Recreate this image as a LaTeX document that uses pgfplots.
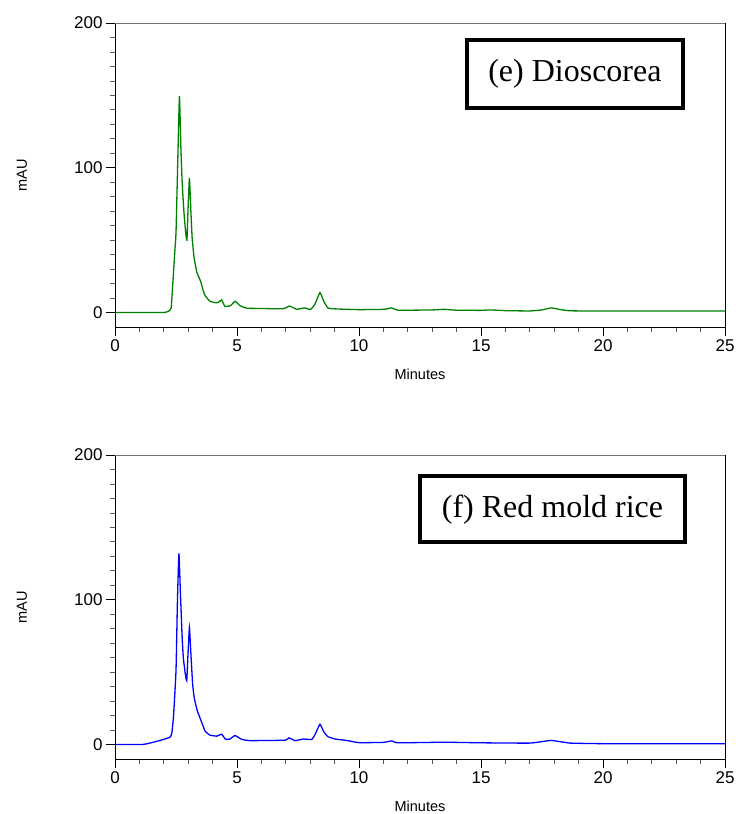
\documentclass[border=0pt]{standalone}
\usepackage{pgfplots}
\pgfplotsset{compat=1.18}
\usepackage{fontspec}
\setmainfont{Liberation Sans}
\newfontfamily\tnr{Liberation Serif}
\definecolor{cgreen}{RGB}{0,128,0}
\definecolor{cblue}{RGB}{0,0,255}
\pgfplotsset{
  chrom/.style={
    scale only axis, width=610pt, height=304pt,
    xmin=0, xmax=25, ymin=-10, ymax=200,
    axis x line*=bottom, axis y line*=left,
    axis line style={black, line width=0.8pt},
    xtick={0,5,...,25}, minor x tick num=4,
    ytick={0,100,200}, minor y tick num=9,
    tick align=outside,
    major tick length=9pt, minor tick length=5pt,
    every tick/.style={black, line width=0.8pt},
    every minor tick/.style={black!65, line width=0.8pt},
    tick label style={font=\fontsize{17}{17}\selectfont},
    /pgf/number format/assume math mode=true,
    xlabel={Minutes}, ylabel={mAU},
    every axis x label/.style={at={(rel axis cs:0.5,0)}, anchor=center, yshift=-47pt, font=\fontsize{14.5}{14.5}\selectfont},
    every axis y label/.style={at={(rel axis cs:0,0.5)}, xshift=-93pt, rotate=90, anchor=center, font=\fontsize{14.5}{14.5}\selectfont},
    clip=false,
  }
}
\begin{document}
\begin{tikzpicture}[x=1pt,y=1pt]
\useasboundingbox (0,0) rectangle (739,-814);
\begin{axis}[chrom, at={(115pt,-327pt)}, anchor=south west]
\draw[black!55, line width=0.8pt] (rel axis cs:0,1) -- (rel axis cs:1,1);
\draw[black, line width=0.8pt] (rel axis cs:1,0) -- (rel axis cs:1,1);
\addplot[cgreen, line width=1.3pt, smooth, tension=0.25] coordinates {
(0,0) (1,0) (2.0,0) (2.1,0.3) (2.2,1) (2.3,3) (2.36,17.5) (2.45,42) (2.5,55) (2.57,103) (2.64,149.5) (2.7,114) (2.75,91) (2.82,70.5) (2.9,54.7) (2.95,50) (2.99,70) (3.05,93) (3.11,70) (3.16,52) (3.24,38) (3.35,28) (3.45,24) (3.52,21) (3.6,16) (3.69,11.8) (3.89,7.8) (4.17,6.7) (4.3,7.8) (4.37,8.8) (4.45,6) (4.51,4.2) (4.74,4.8) (4.92,7.8) (5.12,4.8) (5.4,3.0) (6,2.8) (6.9,2.6) (7.15,4.5) (7.45,2.2) (7.75,3.2) (8.02,2.2) (8.2,6) (8.4,13.8) (8.55,8) (8.74,3) (9.2,2.4) (10,2.0) (11,2.2) (11.34,3.2) (11.6,1.6) (13,1.8) (13.5,2.2) (14,1.6) (15,1.5) (15.4,1.8) (16,1.3) (17,1.1) (17.5,1.8) (17.87,3.2) (18.2,2.2) (18.65,1.2) (20,1.0) (22,1.0) (25,1.0)
};
\node[draw=black, line width=3.5pt, minimum width=216pt, minimum height=68pt, inner sep=0pt, font=\tnr\fontsize{32}{32}\selectfont] at (axis cs:18.85,164.7) {(e) Dioscorea};
\end{axis}
\begin{axis}[chrom, at={(115pt,-759pt)}, anchor=south west]
\draw[black!55, line width=0.8pt] (rel axis cs:0,1) -- (rel axis cs:1,1);
\draw[black, line width=0.8pt] (rel axis cs:1,0) -- (rel axis cs:1,1);
\addplot[cblue, line width=1.3pt, smooth, tension=0.25] coordinates {
(0,0) (1.1,0) (1.43,1) (1.84,2.8) (2.25,5) (2.33,8) (2.4,20) (2.5,51) (2.56,100) (2.62,132) (2.68,105) (2.75,75) (2.8,60) (2.88,49) (2.94,44) (2.99,62) (3.05,81) (3.1,66) (3.18,42) (3.25,32) (3.37,23.5) (3.52,16.8) (3.69,9.4) (3.89,6.5) (4.17,5.8) (4.37,7.1) (4.53,3.6) (4.71,3.8) (4.92,6.2) (5.19,3.6) (5.53,2.7) (6.97,3.0) (7.13,4.6) (7.38,2.7) (7.72,3.8) (8.06,3.5) (8.2,7) (8.40,14) (8.55,9) (8.72,5.5) (9.02,3.8) (9.5,2.8) (10,1.3) (11,1.5) (11.34,2.5) (11.6,1.2) (13.5,1.6) (15,1.2) (17,1.0) (17.87,2.8) (18.65,1.0) (20,0.6) (22,0.6) (25,0.5)
};
\node[draw=black, line width=3.5pt, minimum width=265pt, minimum height=66pt, inner sep=0pt, font=\tnr\fontsize{32}{32}\selectfont] at (axis cs:17.93,162.6) {(f) Red mold rice};
\end{axis}
\end{tikzpicture}
\end{document}
